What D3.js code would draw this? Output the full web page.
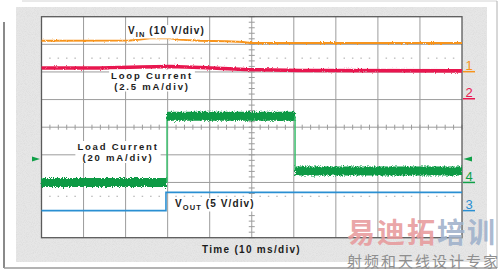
<!DOCTYPE html>
<html>
<head>
<meta charset="utf-8">
<script src="https://cdn.jsdelivr.net/npm/d3@7"></script>
<style>
body { margin: 0; background: #fff; }
svg { display: block; }
</style>
</head>
<body>
<div id="chart"></div>
<script>
// time in ms (10 ms/div), values in channel units
var vinTime = [0, 21, 23.4, 25.8, 30.6, 32.5, 37.7, 44, 47.9, 49.6, 100];
var vinVolts = [11.2, 11.3, 11.6, 12.1, 12.1, 11.6, 11.2, 11.0, 10.7, 10.4, 10.4];

var loopTime = [0, 13.9, 23.4, 30.6, 37.7, 48.4, 61.5, 100];
var loopMilliamps = [2.78, 2.78, 2.87, 2.92, 2.83, 2.65, 2.56, 2.52];

var loadTime = [0, 29.85, 29.85, 60.3, 60.3, 100];
var loadMilliamps = [0, 0, 48, 48, 8.3, 8.3];

var voutTime = [0, 29.6, 29.6, 100];
var voutVolts = [0, 0, 3.3, 3.3];

var triggerLevel = 17; // mA on the load channel

var channelNames = ["1", "2", "3", "4"];
var channelColors = ["#f7941d", "#e8194f", "#2a8fd2", "#10a048"];
var voltsPerDiv = [10, 2.5, 5, 20];
var refDiv = [2.01, 1.03, -3.02, -2.0]; // ground marker position, in divisions

var w = 500;
var h = 270;

var svg = d3.select("#chart")
    .append("svg")
    .attr("width", w)
    .attr("height", h);

var defs = svg.append("defs");

function roughFilter(id, scale, freq) {
    var f = defs.append("filter")
        .attr("id", id)
        .attr("filterUnits", "userSpaceOnUse")
        .attr("x", 0).attr("y", 0)
        .attr("width", w).attr("height", h);
    f.append("feTurbulence")
        .attr("type", "fractalNoise")
        .attr("baseFrequency", freq)
        .attr("numOctaves", 2)
        .attr("seed", 4);
    f.append("feDisplacementMap")
        .attr("in", "SourceGraphic")
        .attr("scale", scale)
        .attr("xChannelSelector", "R")
        .attr("yChannelSelector", "G");
}
roughFilter("roughBig", 5, "0.9 0.6");
roughFilter("roughSmall", 2.5, "0.9 0.7");

// grainy texture for the gray panel
var speckle = defs.append("filter")
    .attr("id", "speckle")
    .attr("filterUnits", "userSpaceOnUse")
    .attr("x", 16).attr("y", 7)
    .attr("width", 471).attr("height", 255);
speckle.append("feTurbulence")
    .attr("type", "fractalNoise")
    .attr("baseFrequency", 1.1)
    .attr("numOctaves", 1)
    .attr("seed", 7);
speckle.append("feColorMatrix")
    .attr("type", "matrix")
    .attr("values", "0 0 0 0 0.6  0 0 0 0 0.6  0 0 0 0 0.6  0.9 0 0 0 -0.38");

// outer frame
svg.append("line").attr("x1", 22).attr("y1", 1).attr("x2", 497).attr("y2", 1)
    .attr("stroke", "#d4d4d4").attr("stroke-width", 1);
svg.append("line").attr("x1", 497).attr("y1", 1).attr("x2", 497).attr("y2", 268)
    .attr("stroke", "#b0b0b0").attr("stroke-width", 1);
svg.append("line").attr("x1", 4).attr("y1", 22).attr("x2", 4).attr("y2", 268)
    .attr("stroke", "#8a8a8a").attr("stroke-width", 2);
svg.append("line").attr("x1", 4).attr("y1", 268).attr("x2", 497).attr("y2", 268)
    .attr("stroke", "#9a9a9a").attr("stroke-width", 1.5);

// gray scope panel
svg.append("rect")
    .attr("x", 16).attr("y", 7)
    .attr("width", 471).attr("height", 255)
    .attr("fill", "#e6e6e6");
svg.append("rect")
    .attr("x", 16).attr("y", 7)
    .attr("width", 471).attr("height", 255)
    .attr("fill", "#000")
    .attr("filter", "url(#speckle)");

var plotLeft = 41.5, plotRight = 462, plotTop = 16.7, plotBottom = 237.7;

var x = d3.scaleLinear().domain([0, 100]).range([plotLeft, plotRight]);
var y = d3.scaleLinear().domain([-4, 4]).range([plotBottom, plotTop]);

svg.append("rect")
    .attr("x", plotLeft).attr("y", plotTop)
    .attr("width", plotRight - plotLeft).attr("height", plotBottom - plotTop)
    .attr("fill", "#fff");

// graticule (the -3 div line is hidden in the original capture)
var grid = svg.append("g").attr("stroke", "#9c9c9c").attr("stroke-width", 1);
grid.selectAll(".vgrid")
    .data(d3.range(10, 100, 10))
    .enter()
    .append("line")
    .attr("x1", function (d) { return x(d); })
    .attr("x2", function (d) { return x(d); })
    .attr("y1", plotTop).attr("y2", plotBottom);
grid.selectAll(".hgrid")
    .data([-2, -1, 0, 1, 2, 3])
    .enter()
    .append("line")
    .attr("x1", plotLeft).attr("x2", plotRight)
    .attr("y1", function (d) { return y(d); })
    .attr("y2", function (d) { return y(d); });

// minor ticks on the centre axes
var minorX = d3.range(0, 100.01, 2);
var minorY = d3.range(-4, 4.01, 0.2);
grid.selectAll(".xtick")
    .data(minorX)
    .enter()
    .append("line")
    .attr("x1", function (d) { return x(d); })
    .attr("x2", function (d) { return x(d); })
    .attr("y1", y(0) - 2.5).attr("y2", y(0) + 2.5);
grid.selectAll(".ytick")
    .data(minorY)
    .enter()
    .append("line")
    .attr("x1", x(50) - 3).attr("x2", x(50) + 3)
    .attr("y1", function (d) { return y(d); })
    .attr("y2", function (d) { return y(d); });

// dotted rows at +/- 2.5 div
[2.5, -2.5].forEach(function (lv) {
    svg.append("g").selectAll("rect")
        .data(minorX.filter(function (d) { return d % 10 != 0; }))
        .enter()
        .append("rect")
        .attr("x", function (d) { return x(d) - 0.75; })
        .attr("y", y(lv) - 0.5)
        .attr("width", 1.5).attr("height", 1)
        .attr("fill", "#a8a8a8");
});

// plot border
svg.append("rect")
    .attr("x", plotLeft).attr("y", plotTop)
    .attr("width", plotRight - plotLeft).attr("height", plotBottom - plotTop)
    .attr("fill", "none")
    .attr("stroke", "#5a5a5a")
    .attr("stroke-width", 1.3);

function toDiv(ch) {
    return function (v) { return v / voltsPerDiv[ch] + refDiv[ch]; };
}

function trace(times, vals, ch) {
    var f = toDiv(ch);
    return times.map(function (t, i) { return [x(t), y(f(vals[i]))]; });
}

var line = d3.line();

// VIN
svg.append("path")
    .attr("d", line(trace(vinTime, vinVolts, 0)))
    .attr("fill", "none")
    .attr("stroke", channelColors[0])
    .attr("stroke-width", 2)
    .attr("filter", "url(#roughSmall)");

// loop current
svg.append("path")
    .attr("d", line(trace(loopTime, loopMilliamps, 1)))
    .attr("fill", "none")
    .attr("stroke", channelColors[1])
    .attr("stroke-width", 3.6)
    .attr("filter", "url(#roughSmall)");

// VOUT
svg.append("path")
    .attr("d", line(trace(voutTime, voutVolts, 2)))
    .attr("fill", "none")
    .attr("stroke", channelColors[2])
    .attr("stroke-width", 1.6);

// load current: thick noisy band on the flat parts, thin edges
var loadPts = trace(loadTime, loadMilliamps, 3);
for (var i = 1; i < loadPts.length; i++) {
    var a = loadPts[i - 1], b = loadPts[i];
    var flat = Math.abs(a[0] - b[0]) > 0.5;
    svg.append("path")
        .attr("d", line([a, b]))
        .attr("fill", "none")
        .attr("stroke", flat ? "#0d9a45" : "#3cbf6e")
        .attr("stroke-width", flat ? 9 : 1.5)
        .attr("filter", flat ? "url(#roughBig)" : null);
}

// labels with white backing; lines are tspans of one text
function addLabel(lines, lx, anchor, fontSize, spacing, backing) {
    var g = svg.append("g");
    var rect = g.append("rect").attr("fill", "#fff");
    var t = g.append("text")
        .attr("text-anchor", anchor)
        .attr("font-family", "'Liberation Sans', Arial, sans-serif")
        .attr("font-weight", "bold")
        .attr("font-size", fontSize)
        .attr("letter-spacing", spacing)
        .attr("fill", "#1c1c1c");
    lines.forEach(function (ln) {
        ln.parts.forEach(function (p, j) {
            var ts = t.append("tspan").text(p[0]);
            if (j == 0) ts.attr("x", lx).attr("y", ln.base);
            if (p[1] == "sub") ts.attr("font-size", fontSize * 0.75).attr("dy", 2.5);
            if (p[1] == "up") ts.attr("dy", -2.5);
        });
    });
    if (backing) {
        var bb = g.node().getBBox();
        rect.attr("x", bb.x - 2).attr("y", bb.y)
            .attr("width", bb.width + 4).attr("height", bb.height);
    } else {
        rect.remove();
    }
}

addLabel([{ base: 34, parts: [["V"], ["IN", "sub"], [" (10 V/div)", "up"]] }], 128, "start", 10, 1.1, true);
addLabel([
    { base: 78.5, parts: [["Loop Current"]] },
    { base: 89.5, parts: [["(2.5 mA/div)"]] }
], 152, "middle", 9.5, 1.8, true);
addLabel([
    { base: 150, parts: [["Load Current"]] },
    { base: 161, parts: [["(20 mA/div)"]] }
], 118, "middle", 9.5, 1.8, true);
addLabel([{ base: 207, parts: [["V"], ["OUT", "sub"], [" (5 V/div)", "up"]] }], 175, "start", 10, 1.1, true);
addLabel([{ base: 253, parts: [["Time (10 ms/div)"]] }], 202, "start", 10, 1.3, false);

// channel markers at the right edge
channelNames.forEach(function (name, ch) {
    var yy = y(refDiv[ch]);
    svg.append("line")
        .attr("x1", plotRight + 1).attr("x2", plotRight + 13)
        .attr("y1", yy).attr("y2", yy)
        .attr("stroke", channelColors[ch])
        .attr("stroke-width", 1.5);
    svg.append("text")
        .attr("x", plotRight + 7)
        .attr("y", yy - 1.5)
        .attr("text-anchor", "middle")
        .attr("font-family", "'Liberation Sans', Arial, sans-serif")
        .attr("font-size", 13)
        .attr("fill", channelColors[ch])
        .text(name);
});

// trigger level arrows
var ty = y(toDiv(3)(triggerLevel));
svg.append("path")
    .attr("d", "M" + (plotLeft - 9.5) + "," + (ty - 2.5) + "L" + (plotLeft - 1.5) + "," + ty + "L" + (plotLeft - 9.5) + "," + (ty + 2.5) + "Z")
    .attr("fill", channelColors[3]);
svg.append("path")
    .attr("d", "M" + (plotRight + 10) + "," + (ty - 2.5) + "L" + (plotRight + 1.5) + "," + ty + "L" + (plotRight + 10) + "," + (ty + 2.5) + "Z")
    .attr("fill", channelColors[3]);

// watermark
var wm = svg.append("text")
    .attr("x", 347)
    .attr("y", 243)
    .attr("font-family", "'Noto Sans CJK SC', sans-serif")
    .attr("font-weight", "bold")
    .attr("font-size", 28)
    .attr("letter-spacing", 2);
wm.append("tspan").attr("fill", "#e79a9c").attr("fill-opacity", 0.9).text("易迪拓");
wm.append("tspan").attr("fill", "#9fb1cb").attr("fill-opacity", 0.9).text("培训");

svg.append("text")
    .attr("x", 347)
    .attr("y", 266.5)
    .attr("font-family", "'Noto Sans CJK SC', sans-serif")
    .attr("font-size", 15)
    .attr("letter-spacing", 2)
    .attr("fill", "#8e8e8e")
    .text("射频和天线设计专家");
</script>
</body>
</html>
